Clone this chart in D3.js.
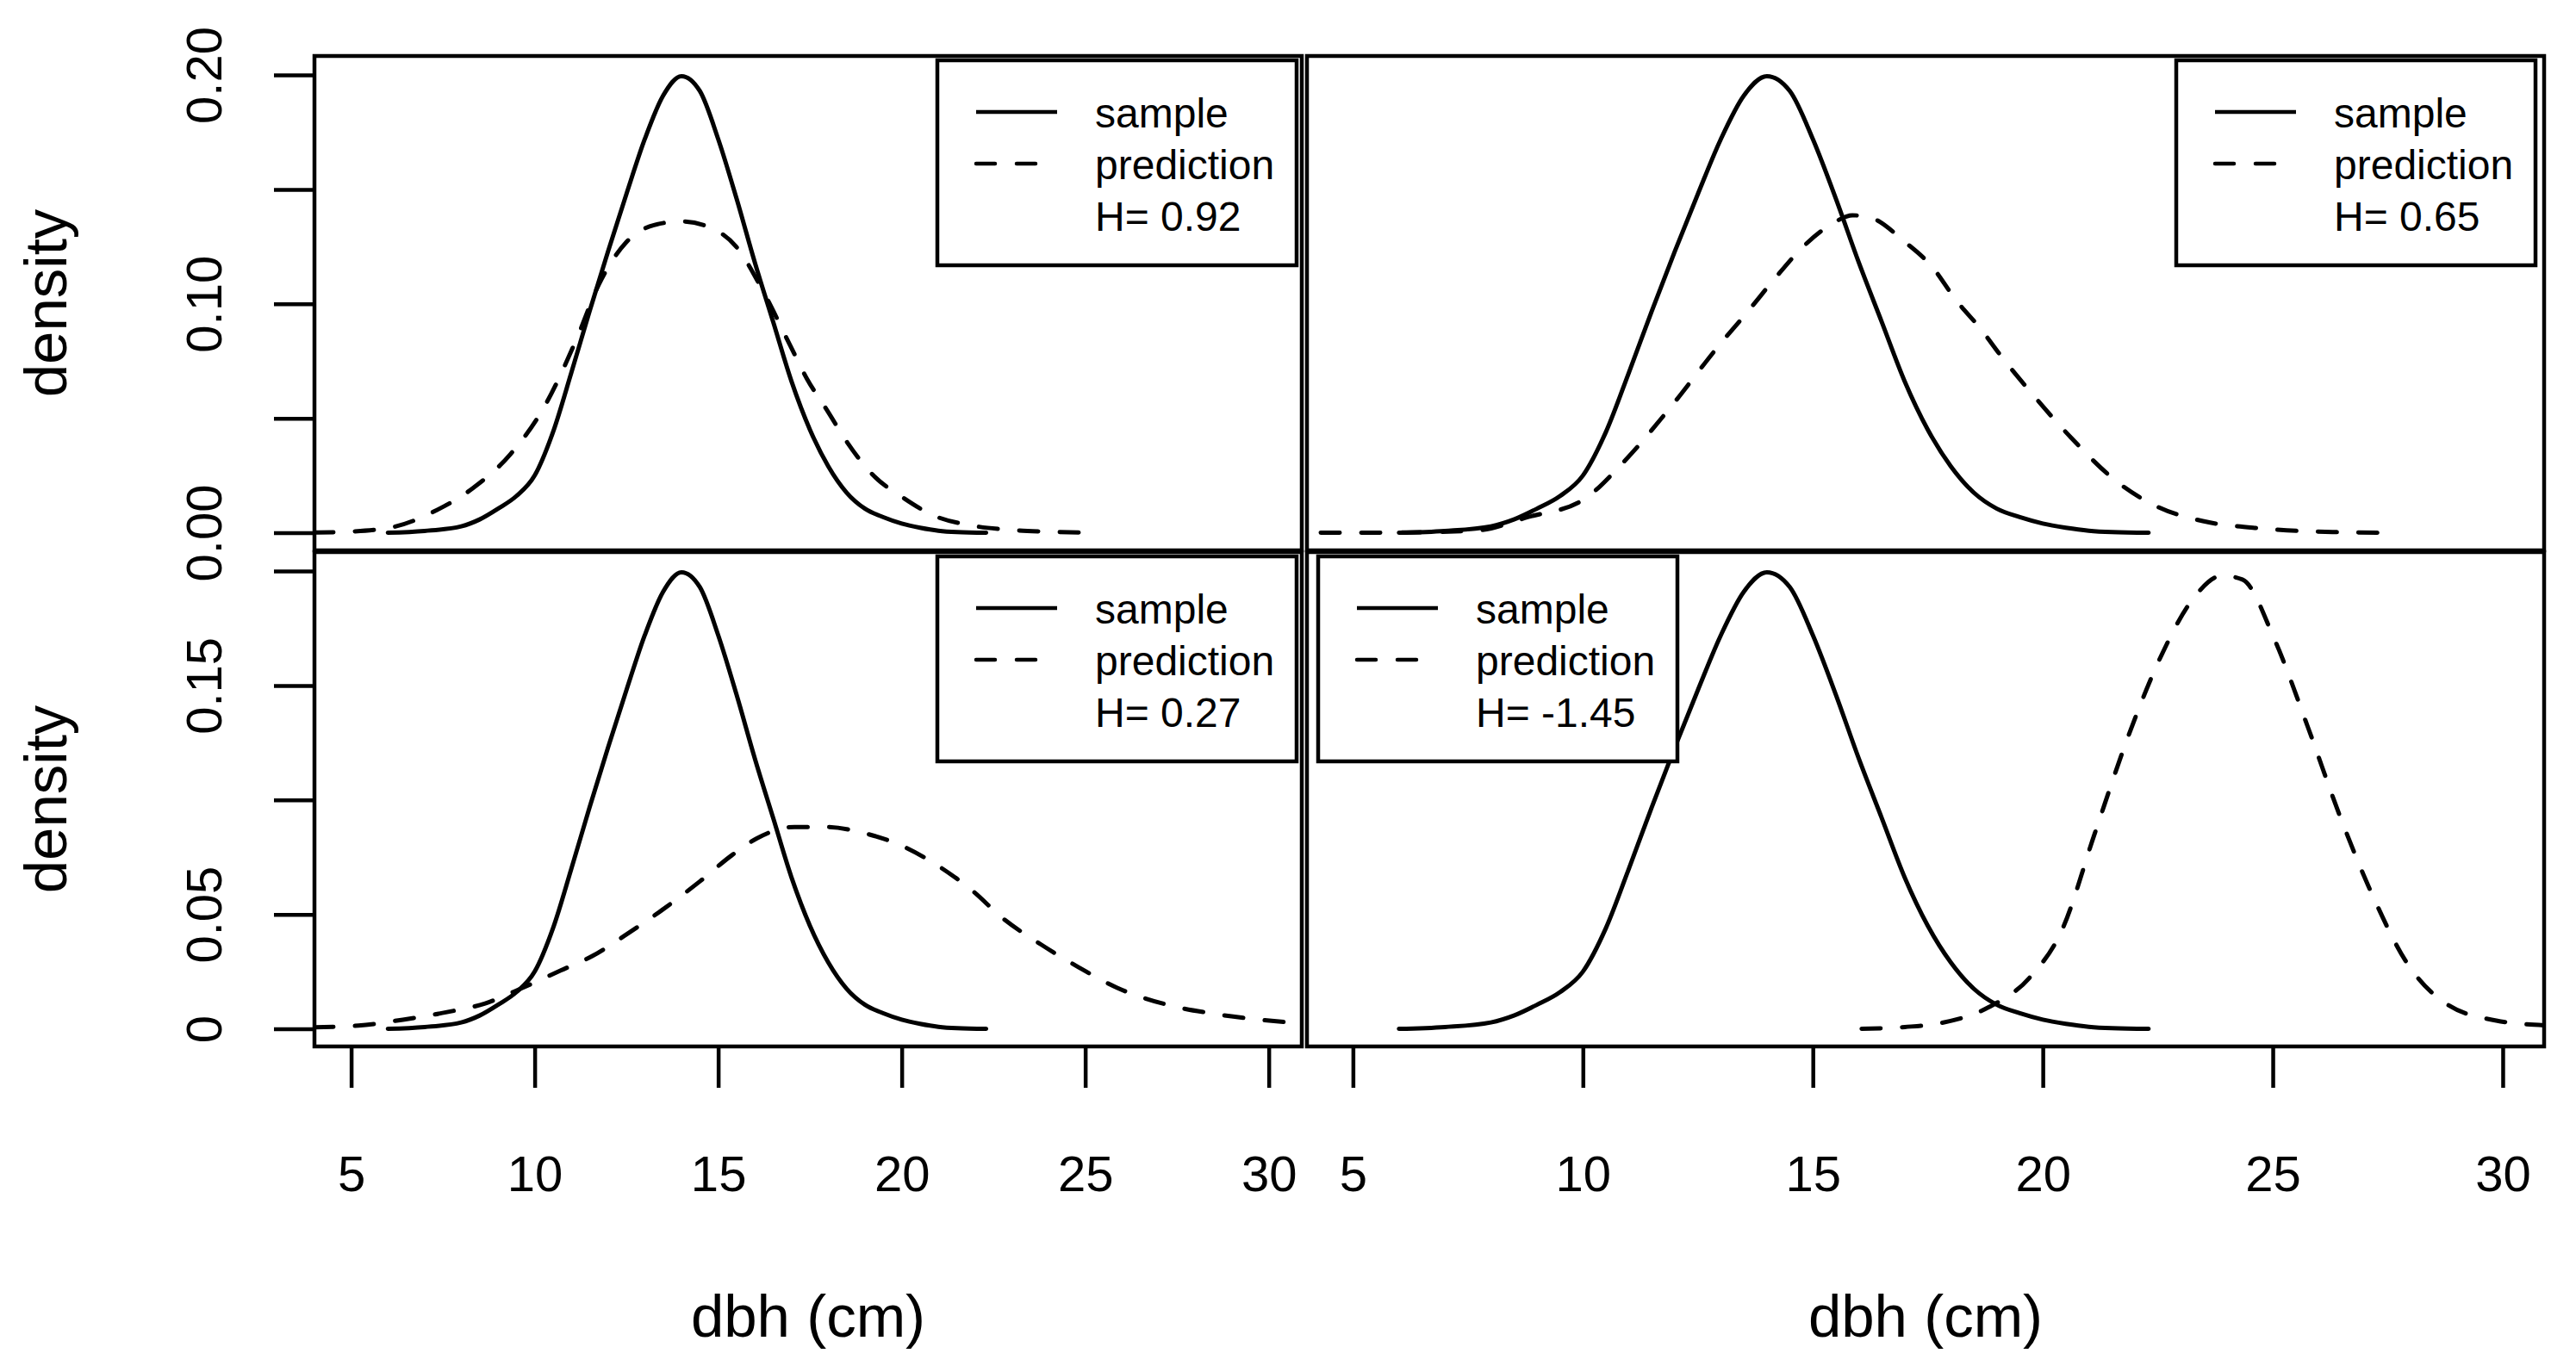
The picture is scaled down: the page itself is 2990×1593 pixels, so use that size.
<!DOCTYPE html>
<html>
<head>
<meta charset="utf-8">
<script src="https://cdn.jsdelivr.net/npm/d3@7"></script>
<style>
    body { margin: 0; background: #fff; }
    svg text { font-family: "Liberation Sans", Arial, sans-serif; fill: #000; }
</style>
</head>
<body>
<svg id="chart" width="2990" height="1593"></svg>
<script>
// observed sample density (same curve in every panel)
const sampleX = [6.0, 7.0, 8.0, 8.5, 9.0, 9.5, 10.0, 10.5, 11.0, 11.5, 12.0, 12.5, 13.0, 13.5, 14.0, 14.5,
    15.0, 15.5, 16.0, 16.5, 17.0, 17.5, 18.0, 18.5, 19.0, 19.5, 20.0, 20.5, 21.0, 21.5, 22.3];
const sampleY = [0.0, 0.0008, 0.0028, 0.0058, 0.0105, 0.016, 0.025, 0.044, 0.070, 0.097, 0.123, 0.148, 0.172, 0.191, 0.1995, 0.193,
    0.172, 0.146, 0.118, 0.092, 0.066, 0.045, 0.029, 0.0175, 0.0105, 0.0068, 0.004, 0.0022, 0.0009, 0.0003, 0.0];

// predicted densities, one per panel
const predAX = [4.0, 5.0, 6.2, 7.26, 8.31, 9.35, 10.25, 11.15, 11.75, 12.5, 13.25, 14.0, 14.74, 15.49, 16.24, 16.95,
    17.42, 17.97, 18.51, 19.18, 20.0, 20.86, 21.88, 22.9, 23.9, 25.3];
const predAY = [0.0001, 0.0005, 0.0027, 0.0093, 0.0194, 0.0345, 0.0547, 0.085, 0.1085, 0.127, 0.1344, 0.136, 0.1336, 0.125, 0.105, 0.0822,
    0.0672, 0.0534, 0.0396, 0.0258, 0.0157, 0.0076, 0.0032, 0.0013, 0.0005, 0.0];

const predBX = [4.3, 6.0, 7.7, 8.8, 10.0, 10.9, 11.9, 12.95, 13.6, 14.17, 14.79, 15.42, 15.86, 16.29, 16.98, 17.6,
    18.1, 18.67, 19.1, 19.67, 20.63, 21.58, 22.53, 23.48, 24.8, 26.3, 27.6];
const predBY = [0.0, 0.0001, 0.001, 0.0068, 0.0143, 0.0312, 0.0547, 0.0816, 0.097, 0.111, 0.125, 0.135, 0.1387, 0.1374, 0.1274, 0.116,
    0.102, 0.0885, 0.077, 0.063, 0.0412, 0.0228, 0.011, 0.0051, 0.0018, 0.0003, 0.0];

const predCX = [4.0, 5.2, 6.41, 7.61, 8.65, 9.68, 10.71, 11.57, 12.44, 13.47, 14.5, 15.36, 16.05, 17.08, 17.94, 18.98,
    20.0, 21.04, 21.9, 22.77, 23.8, 24.83, 25.86, 27.24, 28.45, 29.65, 30.9];
const predCY = [0.0007, 0.0014, 0.004, 0.0073, 0.0111, 0.018, 0.0255, 0.0318, 0.0406, 0.0519, 0.0644, 0.0757, 0.0832, 0.0882, 0.0882, 0.0855,
    0.080, 0.0707, 0.0607, 0.0481, 0.0368, 0.0268, 0.018, 0.0105, 0.0067, 0.0042, 0.0023];

const predDX = [16.06, 17.0, 17.75, 18.82, 19.71, 20.42, 21.13, 21.85, 22.56, 23.27, 23.9, 24.34, 25.05, 25.76, 26.47, 27.19,
    27.9, 28.79, 29.86, 30.95];
const predDY = [0.0, 0.0008, 0.0024, 0.0094, 0.0223, 0.0433, 0.0854, 0.1274, 0.1624, 0.188, 0.198, 0.1963, 0.1695, 0.132, 0.0924, 0.0574,
    0.0293, 0.0107, 0.0036, 0.0015];

const hLabels = ["H= 0.92", "H= 0.65", "H= 0.27", "H= -1.45"];
const legendNames = ["sample", "prediction"];

const xTicks = [5, 10, 15, 20, 25, 30];
const yTicks = [0, 0.05, 0.10, 0.15, 0.20];
const yLabelsTop = ["0.00", "", "0.10", "", "0.20"];     // R dropped the crowded ones
const yLabelsBottom = ["0", "0.05", "", "0.15", ""];

const xTitle = "dbh (cm)";
const yTitle = "density";

// layout of the 2x2 grid
const colX = [[365, 1511], [1517, 2953]];
const rowY = [[65, 639], [641, 1215]];
const LW = 4.5;       // frame, ticks, legend
const CW = 5;         // curves
const DASH = "22 25";

const panels = [
    { row: 0, col: 0, px: predAX, py: predAY, h: hLabels[0], legend: "right", inset: 6 },
    { row: 0, col: 1, px: predBX, py: predBY, h: hLabels[1], legend: "right", inset: 10 },
    { row: 1, col: 0, px: predCX, py: predCY, h: hLabels[2], legend: "right", inset: 6 },
    { row: 1, col: 1, px: predDX, py: predDY, h: hLabels[3], legend: "left", inset: 13 }
];

const svg = d3.select("#chart");
svg.append("rect").attr("width", 2990).attr("height", 1593).attr("fill", "#fff");

panels.forEach((p, i) => {
    const [x0, x1] = colX[p.col];
    const [y0, y1] = rowY[p.row];

    const x = d3.scaleLinear().domain([4.0, 30.9]).range([x0, x1]);
    const y = d3.scaleLinear().domain([-0.0077, 0.2083]).range([y1, y0]);

    const g = svg.append("g").attr("class", `panel-${i}`);

    // clip curves to the plot region like R does
    g.append("clipPath").attr("id", `clip-${i}`)
        .append("rect")
        .attr("x", x0).attr("y", y0)
        .attr("width", x1 - x0).attr("height", y1 - y0);

    const line = d3.line()
        .x(d => x(d[0]))
        .y(d => y(d[1]))
        .curve(d3.curveMonotoneX);

    const curves = g.append("g").attr("clip-path", `url(#clip-${i})`);

    curves.append("path")
        .datum(sampleX.map((v, k) => [v, sampleY[k]]))
        .attr("d", line)
        .attr("fill", "none")
        .attr("stroke", "#000")
        .attr("stroke-width", CW)
        .attr("stroke-linejoin", "round")
        .attr("stroke-linecap", "round");

    curves.append("path")
        .datum(p.px.map((v, k) => [v, p.py[k]]))
        .attr("d", line)
        .attr("fill", "none")
        .attr("stroke", "#000")
        .attr("stroke-width", CW)
        .attr("stroke-dasharray", DASH)
        .attr("stroke-linecap", "round");

    // y axis on the left column only
    if (p.col === 0) {
        const labels = p.row === 0 ? yLabelsTop : yLabelsBottom;
        const ay = g.append("g")
            .attr("transform", `translate(${x0},0)`)
            .call(d3.axisLeft(y).tickValues(yTicks).tickSize(47).tickFormat((d, k) => labels[k]));
        ay.select(".domain").remove();
        ay.selectAll(".tick line").attr("stroke", "#000").attr("stroke-width", LW);
        ay.selectAll(".tick text")
            .attr("transform", "rotate(-90)")
            .attr("x", 0)
            .attr("y", -(x0 - 257))
            .attr("dy", 0)
            .attr("text-anchor", "middle")
            .style("font-size", "58px")
            .style("font-family", "Liberation Sans, Arial, sans-serif");

        svg.append("text")
            .attr("transform", `translate(77,${(y0 + y1) / 2}) rotate(-90)`)
            .attr("text-anchor", "middle")
            .style("font-size", "69px")
            .text(yTitle);
    }

    // x axis on the bottom row only
    if (p.row === 1) {
        const ax = g.append("g")
            .attr("transform", `translate(0,${y1})`)
            .call(d3.axisBottom(x).tickValues(xTicks).tickSize(48));
        ax.select(".domain").remove();
        ax.selectAll(".tick line").attr("stroke", "#000").attr("stroke-width", LW);
        ax.selectAll(".tick text")
            .attr("y", 1383 - y1)
            .attr("dy", 0)
            .style("font-size", "58px")
            .style("font-family", "Liberation Sans, Arial, sans-serif");

        svg.append("text")
            .attr("x", (x0 + x1) / 2)
            .attr("y", 1552)
            .attr("text-anchor", "middle")
            .style("font-size", "69px")
            .text(xTitle);
    }

    // legend box
    const lw = 417, lh = 238;
    const lx = p.legend === "right" ? x1 - p.inset - lw : x0 + p.inset;
    const ly = y0 + 5;
    const lg = g.append("g").attr("transform", `translate(${lx},${ly})`);
    lg.append("rect")
        .attr("width", lw).attr("height", lh)
        .attr("fill", "#fff")
        .attr("stroke", "#000")
        .attr("stroke-width", LW);

    const rows = [legendNames[0], legendNames[1], p.h];
    rows.forEach((label, k) => {
        const cy = 60 + k * 60;
        if (k < 2) {
            lg.append("line")
                .attr("x1", 45).attr("x2", k === 1 ? 137 : 139)
                .attr("y1", cy).attr("y2", cy)
                .attr("stroke", "#000")
                .attr("stroke-width", LW)
                .attr("stroke-dasharray", k === 1 ? DASH : null)
                .attr("stroke-linecap", k === 1 ? "round" : "butt");
        }
        lg.append("text")
            .attr("x", 183)
            .attr("y", cy + 18)
            .style("font-size", "48px")
            .text(label);
    });

    // plot frame on top
    g.append("rect")
        .attr("x", x0).attr("y", y0)
        .attr("width", x1 - x0).attr("height", y1 - y0)
        .attr("fill", "none")
        .attr("stroke", "#000")
        .attr("stroke-width", LW);
});
</script>
</body>
</html>
